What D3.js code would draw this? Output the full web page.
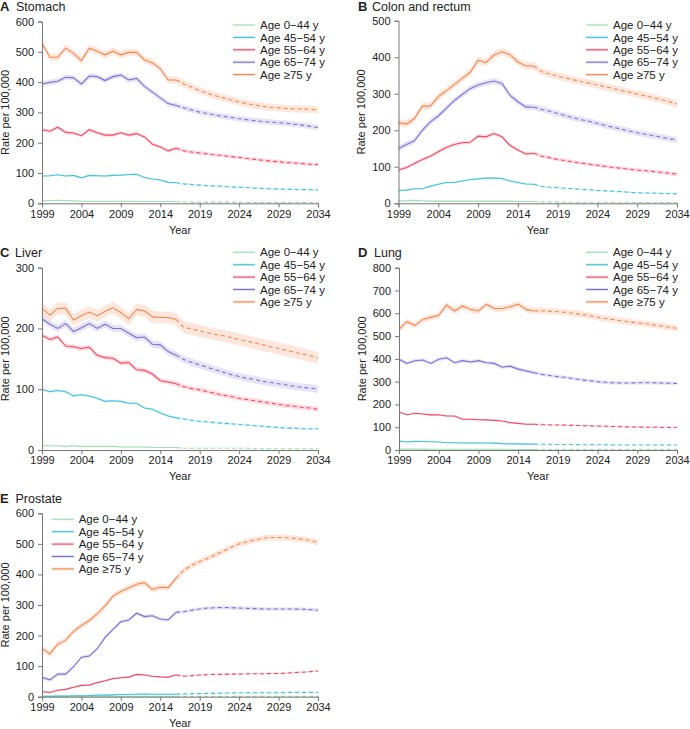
<!DOCTYPE html>
<html><head><meta charset="utf-8">
<script src="https://cdn.jsdelivr.net/npm/d3@7"></script>
<style>
body{margin:0;background:#fff;}
svg{display:block;font-family:"Liberation Sans",Arial,sans-serif;}
</style></head>
<body>
<svg id="chart" width="690" height="729"></svg>
<script>
// ---------------- DATA ----------------
const years = [1999,2000,2001,2002,2003,2004,2005,2006,2007,2008,2009,2010,2011,2012,2013,2014,2015,2016,
  2017,2018,2019,2020,2021,2022,2023,2024,2025,2026,2027,2028,2029,2030,2031,2032,2033,2034];
const lastObservedYear = 2016;
const ageGroups = ["Age 0\u221244 y","Age 45\u221254 y","Age 55\u221264 y","Age 65\u221274 y","Age \u226575 y"];
const xTicks = [1999,2004,2009,2014,2019,2024,2029,2034];

// A Stomach
const stomach0_44  = [8,9,10,9,8,7,7,7,7,7,7,7,7,6,6,6,6,5, 5,4,4,4,4,4,4,4,3,3,3,3,3,3,3,3,3,3];
const stomach45_54 = [90,91,94,90,92,84,92,91,90,92,93,95,96,85,80,77,69,68, 64,62,60,58,57,56,54,53,52,50,49,48,47,46,46,45,45,44];
const stomach55_64 = [243,238,251,234,232,223,243,233,225,225,233,225,230,219,195,186,173,182, 173,169,166,163,160,157,154,151,148,145,142,139,137,135,133,131,129,128];
const stomach65_74 = [394,399,403,416,414,394,420,418,405,418,423,407,412,386,367,348,329,323, 315,308,301,296,291,287,283,279,276,273,270,268,266,264,261,258,254,250];
const stomach75    = [528,482,482,512,495,471,512,502,490,502,490,498,498,473,464,444,407,407, 394,383,372,363,355,348,341,334,329,324,320,317,315,313,312,311,310,309];
const stomachBand  = [1.5,3,6,9,12];

// B Colon and rectum
const colon0_44  = [6,7,8,7,6,6,6,6,6,6,6,6,6,6,6,5,5,5, 4,4,4,3,3,3,3,3,3,3,3,3,2,2,2,2,2,2];
const colon45_54 = [35,36,40,40,47,52,57,57,61,65,67,69,69,68,61,57,53,52, 46,44,43,41,40,38,37,35,34,33,32,30,29,28,28,27,27,26];
const colon55_64 = [91,98,109,120,129,141,153,161,166,167,184,182,191,182,159,146,135,137, 129,125,120,117,113,110,107,104,101,98,96,93,91,89,87,85,82,80];
const colon65_74 = [150,161,171,200,223,239,260,281,298,314,324,330,335,328,296,278,264,263, 257,252,246,240,234,229,224,219,213,208,203,198,193,189,185,181,177,173];
const colon75    = [221,217,232,266,266,292,308,325,342,358,392,385,406,415,407,387,376,376, 360,354,348,343,338,333,329,324,319,314,309,304,299,294,289,284,278,272];
const colonBand  = [1.5,2.5,5,8,10];

// C Liver
const liver0_44  = [7,7,7,6,7,6,6,6,6,6,5,5,5,5,4,4,4,4, 3,3,3,3,3,3,3,3,3,2,2,2,2,2,2,2,2,2];
const liver45_54 = [100,96,98,96,89,91,89,85,80,81,80,77,77,69,67,61,56,53, 51,49,47,46,45,44,43,42,41,40,39,38,37,36,36,35,35,35];
const liver55_64 = [189,182,186,171,170,167,169,156,152,151,143,144,132,131,125,114,112,109, 104,101,99,96,93,90,88,85,83,81,79,77,75,73,72,70,69,67];
const liver65_74 = [216,207,200,208,195,201,208,200,207,200,200,192,185,186,174,173,162,156, 149,144,140,136,132,128,124,121,118,116,113,111,109,107,105,103,102,100];
const liver75    = [233,222,233,233,214,221,227,221,228,234,226,216,231,229,219,218,218,215, 202,199,196,193,190,188,185,182,179,176,173,170,167,164,161,158,155,151];
const liverBand  = [1,2,4,6,10];

// D Lung
const lung0_44  = [4,4,4,4,3,3,3,3,3,3,3,3,3,3,3,2,2,2, 2,2,2,2,2,2,2,2,2,2,2,2,2,2,2,2,2,2];
const lung45_54 = [39,35,38,37,36,35,32,32,31,31,31,31,30,28,27,27,26,26, 25,25,24,24,24,23,23,23,23,22,22,22,22,22,22,22,22,22];
const lung55_64 = [167,155,161,158,154,155,149,149,135,135,133,132,130,127,120,117,113,113, 111,110,110,109,108,107,106,105,104,103,102,101,101,100,100,99,99,99];
const lung65_74 = [398,380,392,395,380,398,405,383,392,386,392,383,380,363,368,355,347,339, 332,327,322,318,313,308,304,300,297,295,294,294,295,295,295,294,293,292];
const lung75    = [529,563,547,573,582,591,636,610,632,617,610,639,621,621,629,640,617,610, 611,609,607,604,600,595,589,582,577,572,567,562,558,554,549,544,539,534];
const lungBand  = [1.5,2.5,4,8,14];

// E Prostate
const prostate0_44  = [1,1,1,1,1,1,1,1,1,1,1,1,1,1,1,1,1,1, 1,1,1,1,1,1,1,1,1,1,1,1,1,1,1,1,1,1];
const prostate45_54 = [1,1,2,2,3,3,4,5,5,6,7,7,8,9,8,8,8,8, 9,10,10,11,11,12,12,13,13,13,13,13,13,14,14,14,14,14];
const prostate55_64 = [16,14,21,24,31,37,38,46,52,59,62,64,73,71,67,65,64,71, 67,69,71,72,73,73,74,74,75,75,75,76,76,77,79,80,82,84];
const prostate65_74 = [63,55,74,74,98,129,133,157,194,220,245,251,273,262,265,254,251,276, 278,283,287,290,291,292,291,290,289,288,287,287,287,287,287,286,285,283];
const prostate75    = [158,140,172,185,214,233,249,271,297,329,344,356,368,373,351,358,357,387, 415,430,442,453,464,477,489,500,507,513,518,521,521,520,518,515,511,505];
const prostateBand  = [1,2.5,3,6,10];

const yTicksStomach  = [0,100,200,300,400,500,600];
const yTicksColon    = [0,100,200,300,400,500];
const yTicksLiver    = [0,100,200,300];
const yTicksLung     = [0,100,200,300,400,500,600,700,800];
const yTicksProstate = [0,100,200,300,400,500,600];

// ---------------- STYLE / LAYOUT ----------------
const colors = ["#a3deb0","#45c3d8","#ef4d66","#7b72cd","#f5864f"];
const panels = [
  {letter:"A", title:"Stomach", series:[stomach0_44,stomach45_54,stomach55_64,stomach65_74,stomach75], band:stomachBand, ticks:yTicksStomach,
   x0:42, x1:318, yT:21.5, yB:203.3, tY:6, lX:0, tX:16, legX:233, legY:25},
  {letter:"B", title:"Colon and rectum", series:[colon0_44,colon45_54,colon55_64,colon65_74,colon75], band:colonBand, ticks:yTicksColon,
   x0:398.5, x1:677, yT:20.7, yB:203.3, tY:6, lX:358, tX:372, legX:586, legY:25},
  {letter:"C", title:"Liver", series:[liver0_44,liver45_54,liver55_64,liver65_74,liver75], band:liverBand, ticks:yTicksLiver,
   x0:42, x1:318, yT:267.7, yB:450, tY:252.5, lX:0, tX:15, legX:233, legY:252.3},
  {letter:"D", title:"Lung", series:[lung0_44,lung45_54,lung55_64,lung65_74,lung75], band:lungBand, ticks:yTicksLung,
   x0:399, x1:677, yT:267.7, yB:450, tY:252.5, lX:358, tX:374, legX:586, legY:252.3},
  {letter:"E", title:"Prostate", series:[prostate0_44,prostate45_54,prostate55_64,prostate65_74,prostate75], band:prostateBand, ticks:yTicksProstate,
   x0:42, x1:318, yT:513.3, yB:696.7, tY:498.3, lX:0, tX:15.5, legX:51.7, legY:519.3}
];

const svg = d3.select("#chart");
const axisColor = "#777";
const textColor = "#222";

panels.forEach(p => {
  const g = svg.append("g");
  const x = d3.scaleLinear().domain([1999,2034]).range([p.x0,p.x1]);
  const y = d3.scaleLinear().domain([0,d3.max(p.ticks)]).range([p.yB,p.yT]);

  // title
  g.append("text").attr("x",p.lX).attr("y",p.tY).attr("dy","0.36em")
    .attr("font-size",13).attr("font-weight","bold").attr("fill",textColor).text(p.letter);
  g.append("text").attr("x",p.tX).attr("y",p.tY).attr("dy","0.36em")
    .attr("font-size",12.5).attr("fill",textColor).text(p.title);

  const rows = years.map((yr,i)=>({yr,i}));
  const obs = rows.filter(r=>r.yr<=lastObservedYear);
  const proj = rows.filter(r=>r.yr>=lastObservedYear);

  // bands
  p.series.forEach((s,k)=>{
    const area = d3.area().x(r=>x(r.yr)).y0(r=>y(Math.max(0,s[r.i]-p.band[k]))).y1(r=>y(s[r.i]+p.band[k]));
    g.append("path").attr("d",area(rows)).attr("fill",colors[k]).attr("fill-opacity",0.2).attr("stroke","none");
  });
  // lines
  p.series.forEach((s,k)=>{
    const line = d3.line().x(r=>x(r.yr)).y(r=>y(s[r.i]));
    g.append("path").attr("d",line(obs)).attr("fill","none").attr("stroke",colors[k]).attr("stroke-width",1.1);
    g.append("path").attr("d",line(proj)).attr("fill","none").attr("stroke",colors[k]).attr("stroke-width",1.1)
      .attr("stroke-dasharray","4,3");
  });

  // axes
  const xa = g.append("g").attr("transform",`translate(0,${p.yB})`)
    .call(d3.axisBottom(x).tickValues(xTicks).tickFormat(d3.format("d")).tickSize(4).tickPadding(2.5));
  const ya = g.append("g").attr("transform",`translate(${p.x0},0)`)
    .call(d3.axisLeft(y).tickValues(p.ticks).tickFormat(d3.format("d")).tickSize(4).tickPadding(4));
  [xa,ya].forEach(a=>{
    a.selectAll("path,line").attr("stroke",axisColor);
    a.selectAll("text").attr("font-size",11).attr("fill",textColor).attr("font-family","Liberation Sans, Arial, sans-serif");
  });

  g.append("text").attr("x",(p.x0+p.x1)/2).attr("y",p.yB+26.5).attr("dy","0.36em")
    .attr("text-anchor","middle").attr("font-size",11).attr("fill",textColor).text("Year");
  g.append("text").attr("transform",`translate(${p.x0-37},${(p.yT+p.yB)/2}) rotate(-90)`)
    .attr("dy","0.36em").attr("text-anchor","middle").attr("font-size",11).attr("fill",textColor).text("Rate per 100,000");

  // legend
  ageGroups.forEach((name,k)=>{
    const ly = p.legY + k*12.4;
    g.append("rect").attr("x",p.legX).attr("y",ly-1.5).attr("width",22).attr("height",3)
      .attr("fill",colors[k]).attr("fill-opacity",0.2);
    g.append("line").attr("x1",p.legX).attr("x2",p.legX+22).attr("y1",ly).attr("y2",ly)
      .attr("stroke",colors[k]).attr("stroke-width",1.1);
    g.append("text").attr("x",p.legX+27).attr("y",ly).attr("dy","0.36em")
      .attr("font-size",11.5).attr("fill",textColor).text(name);
  });
});
</script>
</body></html>
